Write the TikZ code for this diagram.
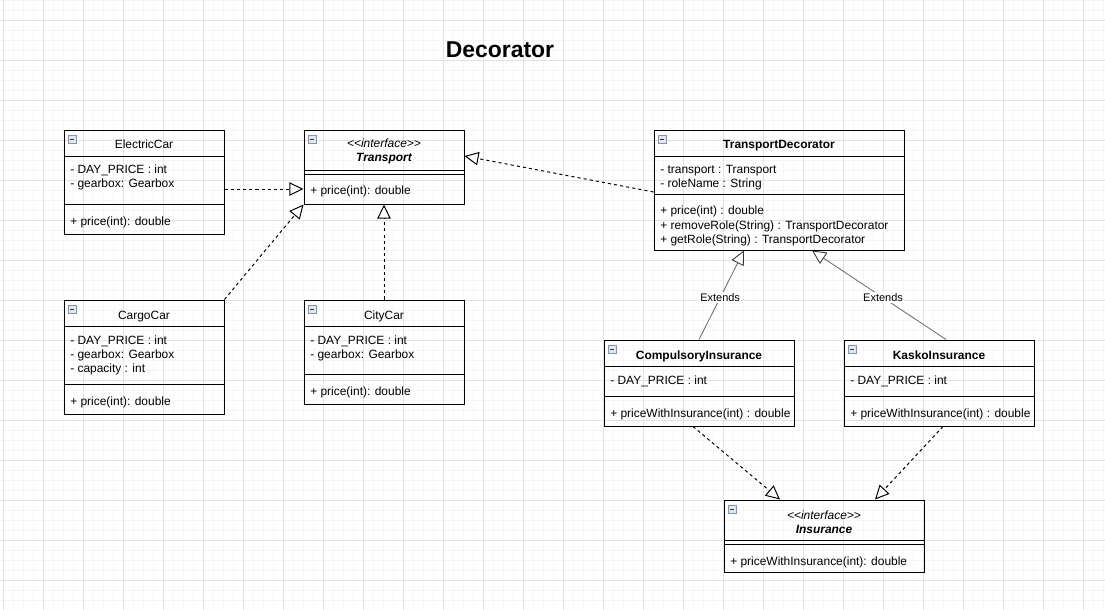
\documentclass[tikz,border=0pt]{standalone}
\usepackage{fontspec}
\setmainfont{Liberation Sans}
\usepackage{tikz}
\usetikzlibrary{arrows.meta}
\usetikzlibrary{fit}
\usetikzlibrary{calc}

\definecolor{gridmajor}{HTML}{E2E2E2}
\definecolor{gridminor}{HTML}{F6F6F6}
\definecolor{iconedge}{HTML}{8494A6}
\definecolor{iconfill}{HTML}{E1E7EE}
\definecolor{extendgray}{HTML}{6E6E6E}

\newcommand{\umlfont}{\fontsize{8.5}{10}\selectfont}
\newcommand{\lbl}{<\kern0pt<interface>\kern0pt>}

\tikzset{
  classbox/.style={draw, line width=0.7pt, inner sep=0pt},
  sepline/.style={line width=0.7pt},
  member/.style={anchor=base west, inner sep=0pt, font=\umlfont},
  classtitle/.style={anchor=base, inner sep=0pt, font=\umlfont},
  collapse/.style={draw=iconedge, fill=iconfill, line width=0.5pt},
  realize/.style={line width=0.7pt, dash pattern=on 2.2pt off 2.2pt,
    -{Triangle[length=10pt, width=9.5pt, fill=white]}},
  extends/.style={draw=extendgray, line width=0.6pt,
    -{Triangle[length=10pt, width=9.5pt, fill=white, color=black!80]}},
  extlabel/.style={fill=white, inner sep=1pt, font=\fontsize{7.8}{9}\selectfont, text=black},
}

% box with header line, collapse icon and title
\newcommand{\umlbox}[7]{%
  \node[classbox, fit={(#2,#3) (#4,#5)}] (#1) {};
  \draw[sepline] (#2,#6) -- (#4,#6);
  \draw[collapse] ({#2+4},{#3+5}) rectangle ({#2+12},{#3+13});
  \draw[line width=0.6pt, black!80] ({#2+6},{#3+9}) -- ({#2+10},{#3+9});
  \node[classtitle] at ({(#2+#4)/2},{#3+19}) {#7};}

\newcommand{\umlmembers}[3]{%
  \foreach \m [count=\k from 0] in {#3}
    \node[member] at (#1,{#2+14*\k}) {\m};}

\begin{document}
\begin{tikzpicture}[x=0.025cm, y=-0.025cm, font=\umlfont]
  \useasboundingbox (0,0) rectangle (1105,610);
  \fill[white] (0,0) rectangle (1105,610);

  \foreach \gx in {3,13,...,1103} \draw[gridminor, line width=0.5pt] (\gx,0) -- (\gx,610);
  \foreach \gy in {0,10,...,610} \draw[gridminor, line width=0.5pt] (0,\gy) -- (1105,\gy);
  \foreach \gx in {3,43,...,1103} \draw[gridmajor, line width=0.6pt] (\gx,0) -- (\gx,610);
  \foreach \gy in {20,60,...,580} \draw[gridmajor, line width=0.6pt] (0,\gy) -- (1105,\gy);

  \node[anchor=base, inner sep=0pt, font=\fontsize{16.3}{18}\selectfont\bfseries] (title) at (500,58) {Decorator};

  % cars
  \umlbox{ElectricCar}{64}{130}{224}{234}{156}{ElectricCar}
  \draw[sepline] (64,204) -- (224,204);
  \umlmembers{70}{174}{- DAY\_PRICE : int, - gearbox: Gearbox}
  \umlmembers{70}{225}{+ price(int): double}

  \umlbox{CargoCar}{64}{300}{224}{414}{326}{CargoCar}
  \draw[sepline] (64,384) -- (224,384);
  \umlmembers{70}{344}{- DAY\_PRICE : int, - gearbox: Gearbox, - capacity : int}
  \umlmembers{70}{405}{+ price(int): double}

  \umlbox{CityCar}{304}{300}{464}{404}{326}{CityCar}
  \draw[sepline] (304,374) -- (464,374);
  \umlmembers{310}{344}{- DAY\_PRICE : int, - gearbox: Gearbox}
  \umlmembers{310}{395}{+ price(int): double}

  \umlbox{Transport}{304}{130}{464}{204}{170}{}
  \draw[sepline] (304,174) -- (464,174);
  \node[classtitle, font=\umlfont\itshape] (transportkind) at (384,148) {\lbl};
  \node[classtitle, font=\umlfont\bfseries\itshape] (transportname) at (384,162) {Transport};
  \umlmembers{310}{195}{+ price(int): double}

  % decorator side
  \umlbox{TransportDecorator}{654}{130}{904}{250}{156}{\bfseries TransportDecorator}
  \draw[sepline] (654,194) -- (904,194);
  \umlmembers{660}{174}{- transport : Transport, - roleName : String}
  \umlmembers{660}{215}{+ price(int) : double, + removeRole(String) : TransportDecorator, + getRole(String) : TransportDecorator}

  \umlbox{CompulsoryInsurance}{604}{340}{794}{426}{366}{\bfseries CompulsoryInsurance}
  \draw[sepline] (604,396) -- (794,396);
  \umlmembers{610}{384}{- DAY\_PRICE : int}
  \umlmembers{610}{417}{+ priceWithInsurance(int) : double}

  \umlbox{KaskoInsurance}{844}{340}{1034}{426}{366}{\bfseries KaskoInsurance}
  \draw[sepline] (844,396) -- (1034,396);
  \umlmembers{850}{384}{- DAY\_PRICE : int}
  \umlmembers{850}{417}{+ priceWithInsurance(int) : double}

  \umlbox{Insurance}{724}{500}{924}{572}{540}{}
  \draw[sepline] (724,544) -- (924,544);
  \node[classtitle, font=\umlfont\itshape] (insurancekind) at (824,519) {\lbl};
  \node[classtitle, font=\umlfont\bfseries\itshape] (insurancename) at (824,533) {Insurance};
  \umlmembers{730}{565}{+ priceWithInsurance(int): double}

  % connectors
  \draw[realize] ($(ElectricCar.east)+(0,7)$) -- ($(Transport.west)+(0,22)$);
  \draw[realize] (CargoCar.north east) -- (Transport.south west);
  \draw[realize] (CityCar.north) -- (Transport.south);
  \draw[realize] ($(TransportDecorator.west)+(0,2)$) -- ($(Transport.east)+(0,-11)$);
  \draw[extends] (CompulsoryInsurance.north) -- node[extlabel, pos=0.47] {Extends} ($(TransportDecorator.south)+(-35,0)$);
  \draw[extends] ($(KaskoInsurance.north)+(7,0)$) -- node[extlabel, pos=0.47] {Extends} ($(TransportDecorator.south)+(33,0)$);
  \draw[realize] ($(CompulsoryInsurance.south)+(-6,0)$) -- ($(Insurance.north)+(-44,0)$);
  \draw[realize] ($(KaskoInsurance.south)+(4,0)$) -- ($(Insurance.north)+(51,0)$);
\end{tikzpicture}
\end{document}
